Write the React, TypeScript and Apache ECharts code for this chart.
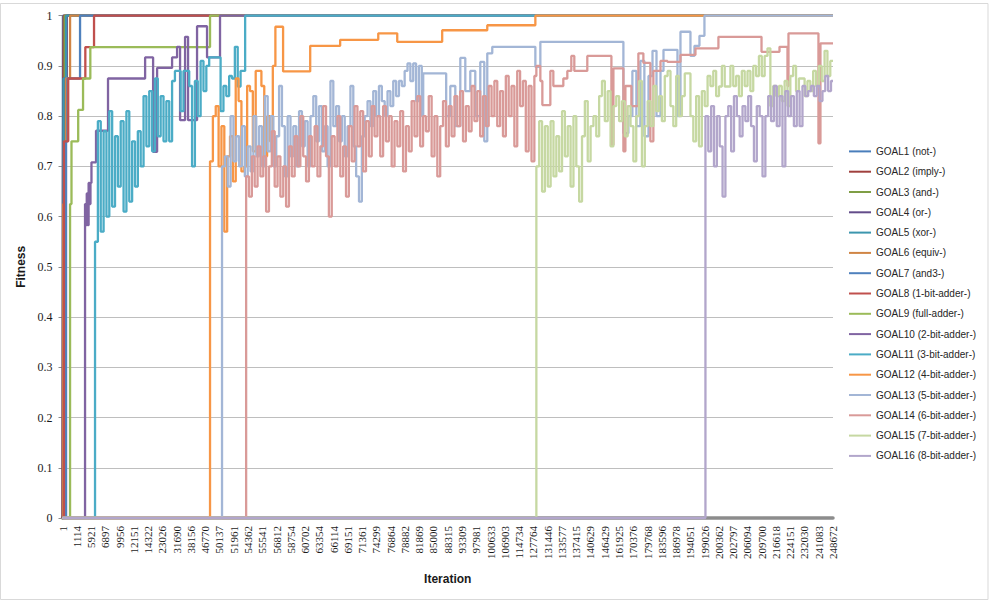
import React, { useEffect, useRef } from "react";
import * as echarts from "echarts";

// Iteration labels shown under every 10th sample position on the x axis
const xTickLabels = [
  "1", "1114", "5921", "6897", "9956", "12151", "14322", "23026", "31690", "38156",
  "46770", "50137", "51961", "54362", "55541", "56812", "58754", "60702", "63354", "66114",
  "69151", "71361", "74299", "76864", "78882", "81869", "85000", "88315", "93309", "97981",
  "100633", "106903", "114734", "127764", "131446", "133577", "137415", "140629", "146429", "161925",
  "170376", "179768", "183596", "186978", "194051", "199026", "200362", "202797", "206094", "209700",
  "216618", "224151", "232030", "241083", "248672",
];

const goalNames = [
  "GOAL1 (not-)", "GOAL2 (imply-)", "GOAL3 (and-)", "GOAL4 (or-)", "GOAL5 (xor-)",
  "GOAL6 (equiv-)", "GOAL7 (and3-)", "GOAL8 (1-bit-adder-)", "GOAL9 (full-adder-)",
  "GOAL10 (2-bit-adder-)", "GOAL11 (3-bit-adder-)", "GOAL12 (4-bit-adder-)",
  "GOAL13 (5-bit-adder-)", "GOAL14 (6-bit-adder-)", "GOAL15 (7-bit-adder-)", "GOAL16 (8-bit-adder-)",
];

const goalColors = [
  "#4A7EBB", "#A0403D", "#7F9E45", "#634C8A", "#3C96AE", "#D08545",
  "#4F81BD", "#C0504D", "#9BBB59", "#8064A2", "#4BACC6", "#F79646",
  "#A3B6D6", "#D99A98", "#C6D8A2", "#B2A6CB",
];

// Step series: [sample position, fitness] at each change of value
const goal1 = [[0, 0], [0.3, 1], [540, 1]];
const goal2 = [[0, 0], [0.4, 0.75], [0.8, 1], [540, 1]];
const goal3 = [[0, 0], [0.5, 0.75], [1.5, 1], [540, 1]];
const goal4 = [[0, 0], [0.6, 0.875], [3, 1], [540, 1]];
const goal5 = [[0, 0], [0.7, 0.875], [2.5, 1], [540, 1]];
const goal6 = [[0, 0], [0.5, 0.625], [1.2, 0.75], [2.5, 0.875], [5.3, 1], [540, 1]];
const goal7 = [[0, 0], [2.5, 0.75], [3.5, 0.875], [12.3, 1], [540, 1]];
const goal8 = [[0, 0], [1, 0.75], [4, 0.875], [16, 0.9375], [22.1, 1], [540, 1]];
const goal9 = [[0, 0], [5.3, 0.625], [6.3, 0.75], [11, 0.8125], [14.4, 0.875], [19.5, 0.9375], [103.4, 1], [540, 1]];
const goal10 = [
  [0, 0], [15.8, 0.625], [16.4, 0.583], [17, 0.646], [17.6, 0.583], [18.3, 0.667], [19, 0.625],
  [19.6, 0.667], [20.3, 0.708], [23.5, 0.771], [31.9, 0.875], [57.9, 0.917], [63.5, 0.729],
  [66.3, 0.896], [76.8, 0.917], [80.3, 0.938], [82.4, 0.792], [85.9, 0.958], [88, 0.792],
  [94.3, 0.979], [101.3, 0.917], [110.4, 1], [540, 1],
];

// Noisy series: fitness sampled every 2 positions from a start position, then step tail
const goal11Start = 22.8;
const goal11Noise = [
  0.55, 0.79, 0.57, 0.77, 0.6, 0.81, 0.62, 0.76, 0.66, 0.79, 0.61, 0.81, 0.63, 0.75, 0.66, 0.77,
  0.7, 0.84, 0.74, 0.85, 0.73, 0.875, 0.76, 0.84, 0.75, 0.83, 0.75, 0.87, 0.89, 0.89, 0.81, 0.89,
  0.89, 0.86, 0.7, 0.87, 0.8, 0.91, 0.85, 0.9, 0.917, 0.917, 0.917, 0.917, 0.81, 0.86, 0.84, 0.88,
  0.875, 0.938, 0.859, 0.89, 0.89,
];
const goal11Tail = [[128, 1], [540, 1]];

const goal12Start = 103.4;
const goal12Noise = [
  0.71, 0.8, 0.82, 0.7, 0.78, 0.57, 0.72, 0.76, 0.67, 0.875, 0.83, 0.69, 0.7, 0.86, 0.85, 0.73,
  0.89, 0.89, 0.86, 0.72, 0.8, 0.75, 0.9,
];
const goal12Tail = [
  [149.2, 0.978], [154.6, 0.889], [173.6, 0.94], [194.6, 0.952], [221.3, 0.965], [234.6, 0.948],
  [266.1, 0.971], [297.7, 0.981], [331.4, 1], [540, 1],
];

const goal13Start = 111.8;
const goal13Noise = [
  0.7, 0.72, 0.66, 0.8, 0.71, 0.76, 0.7, 0.78, 0.68, 0.74, 0.69, 0.8, 0.72, 0.78, 0.7, 0.84,
  0.73, 0.8, 0.7, 0.76, 0.86, 0.78, 0.68, 0.8, 0.72, 0.78, 0.7, 0.81, 0.74, 0.79, 0.7, 0.8,
  0.84, 0.75, 0.82, 0.73, 0.78, 0.7, 0.87, 0.78, 0.82, 0.75, 0.8, 0.72, 0.78, 0.86, 0.74, 0.68,
  0.63, 0.76, 0.8, 0.83, 0.78, 0.85, 0.8, 0.86, 0.83, 0.8, 0.85, 0.82, 0.87, 0.84, 0.87, 0.86,
  0.89, 0.905, 0.87, 0.905, 0.83, 0.9, 0.8,
];
const goal13Tail = [
  [252.8, 0.885], [268.9, 0.8], [271.8, 0.86], [275.3, 0.78], [278.8, 0.916], [282.3, 0.85],
  [285.8, 0.89], [289.3, 0.8], [292.8, 0.908], [295.6, 0.75], [297.7, 0.925], [301.2, 0.938],
  [331.4, 0.898], [334.9, 0.948], [393.1, 0.766], [396.6, 0.8], [399.4, 0.89], [402.2, 0.78],
  [405, 0.91], [407.8, 0.76], [410.7, 0.88], [413.5, 0.93], [416.3, 0.8], [419.1, 0.89],
  [421.2, 0.932], [431, 0.8], [433.1, 0.968], [440.1, 0.92], [442.9, 0.94], [446.4, 0.96],
  [449.9, 1], [540, 1],
];

const goal14Start = 128.7;
const goal14Noise = [
  0.68, 0.64, 0.72, 0.66, 0.74, 0.68, 0.72, 0.61, 0.7, 0.77, 0.66, 0.72, 0.64, 0.7, 0.62, 0.74,
  0.68, 0.76, 0.7, 0.8, 0.72, 0.67, 0.76, 0.7, 0.78, 0.68, 0.74, 0.82, 0.72, 0.6, 0.76, 0.7,
  0.8, 0.68, 0.74, 0.64, 0.78, 0.71, 0.82, 0.74, 0.81, 0.69, 0.79, 0.72, 0.82, 0.76, 0.8, 0.72,
  0.82, 0.75, 0.8, 0.7, 0.79, 0.74, 0.81, 0.69, 0.78, 0.73, 0.83, 0.76, 0.84, 0.74, 0.8, 0.77,
  0.84, 0.72, 0.8, 0.68, 0.78, 0.83, 0.74, 0.82, 0.76, 0.84, 0.78, 0.85, 0.75, 0.82, 0.77, 0.86,
  0.79, 0.85, 0.76, 0.84, 0.78, 0.86, 0.8, 0.87, 0.78, 0.85, 0.76, 0.88, 0.8, 0.86, 0.74, 0.89,
  0.82, 0.87, 0.73, 0.86, 0.71, 0.88,
];
const goal14Tail = [
  [332.1, 0.9], [334.9, 0.87], [336.3, 0.822], [341.9, 0.89], [344, 0.86], [351, 0.875],
  [353.8, 0.89], [356.6, 0.92], [358.7, 0.89], [367.8, 0.92], [384.7, 0.743], [386.1, 0.895],
  [393.1, 0.73], [394.5, 0.86], [398.7, 0.82], [403.6, 0.925], [407.1, 0.906], [412, 0.75],
  [414.1, 0.89], [419.1, 0.91], [424, 0.908], [433.1, 0.922], [443.6, 0.935], [459.7, 0.958],
  [489.9, 0.928], [502.5, 0.938], [508.1, 0.86], [508.8, 0.965], [529.8, 0.746], [531.2, 0.945],
  [540, 0.945],
];

const goal15Start = 332.1;
const goal15Noise = [
  0.7, 0.79, 0.65, 0.78, 0.66, 0.79, 0.68, 0.76, 0.69, 0.81, 0.72, 0.78, 0.66, 0.8, 0.7, 0.63,
  0.76, 0.83, 0.71, 0.78, 0.8, 0.76, 0.84, 0.87, 0.79, 0.85, 0.74, 0.82, 0.84, 0.79, 0.83, 0.76,
  0.82, 0.78, 0.71, 0.8, 0.87, 0.7, 0.78, 0.83, 0.78, 0.86, 0.81, 0.84, 0.79, 0.88, 0.89, 0.82,
  0.78, 0.88, 0.8, 0.84, 0.885, 0.885, 0.8, 0.75, 0.84, 0.74, 0.85, 0.82, 0.88, 0.86, 0.89, 0.84,
  0.859, 0.9, 0.859, 0.859, 0.9, 0.86, 0.88, 0.84, 0.89, 0.86, 0.89, 0.85, 0.9, 0.88, 0.92, 0.88,
  0.92, 0.935, 0.82, 0.86, 0.84, 0.86, 0.83, 0.87, 0.82, 0.88, 0.9, 0.85, 0.875, 0.875, 0.84, 0.87,
  0.85, 0.89, 0.86, 0.9, 0.87, 0.93, 0.88, 0.91,
];
const goal15Tail = [[540, 0.91]];

const goal16Start = 450.6;
const goal16Noise = [
  0.8, 0.73, 0.82, 0.7, 0.8, 0.74, 0.64, 0.8, 0.82, 0.73, 0.84, 0.8, 0.76, 0.82, 0.79, 0.84,
  0.78, 0.71, 0.82, 0.8, 0.68, 0.8, 0.84, 0.79, 0.86, 0.78, 0.84, 0.7, 0.85, 0.8, 0.84, 0.78,
  0.85, 0.78, 0.86, 0.84, 0.85, 0.86, 0.84, 0.86, 0.83, 0.85, 0.88, 0.85, 0.87,
];
const goal16Tail = [[540, 0.87]];

const SAMPLE_STEP = 2;

function noisySeries(start: number, values: number[], tail: number[][]) {
  const pts: number[][] = [[0, 0]];
  values.forEach((v, k) => pts.push([start + k * SAMPLE_STEP, v]));
  return pts.concat(tail);
}

const goalData = [
  goal1, goal2, goal3, goal4, goal5, goal6, goal7, goal8, goal9, goal10,
  noisySeries(goal11Start, goal11Noise, goal11Tail),
  noisySeries(goal12Start, goal12Noise, goal12Tail),
  noisySeries(goal13Start, goal13Noise, goal13Tail),
  noisySeries(goal14Start, goal14Noise, goal14Tail),
  noisySeries(goal15Start, goal15Noise, goal15Tail),
  noisySeries(goal16Start, goal16Noise, goal16Tail),
];

export default function App() {
  const ref = useRef<HTMLDivElement>(null);

  useEffect(() => {
    if (!ref.current) return;
    const chart = echarts.init(ref.current, null, { renderer: "svg" });
    const serif = "'Liberation Serif', 'DejaVu Serif', serif";
    const sans = "'Liberation Sans', Arial, sans-serif";

    chart.setOption({
      animation: false,
      backgroundColor: "#ffffff",
      color: goalColors,
      graphic: [
        {
          type: "rect",
          silent: true,
          z: -10,
          shape: { x: 0.5, y: 3.5, width: 987.5, height: 596 },
          style: { fill: "none", stroke: "#D9D9D9", lineWidth: 1 },
        },
      ],
      grid: { left: 62.5, right: 157, top: 15.7, bottom: 83, containLabel: false },
      legend: {
        orient: "vertical",
        left: 844,
        top: 141.4,
        itemWidth: 22,
        itemHeight: 14,
        itemGap: 10.3,
        icon: "path://M0,6 L22,6 L22,8 L0,8 Z",
        textStyle: { fontFamily: sans, fontSize: 10, color: "#262626" },
        data: goalNames,
      },
      xAxis: {
        type: "value",
        min: 0,
        max: 540,
        interval: 10,
        z: 3,
        name: "Iteration",
        nameLocation: "middle",
        nameGap: 55,
        nameTextStyle: { fontFamily: sans, fontSize: 12, fontWeight: "bold", color: "#1a1a1a" },
        axisLine: { show: true, onZero: false, lineStyle: { color: "#8C8C8C", width: 3.5 } },
        axisTick: { show: false },
        splitLine: { show: false },
        axisLabel: {
          rotate: 90,
          margin: 8,
          fontFamily: serif,
          fontSize: 11,
          color: "#1a1a1a",
          showMinLabel: true,
          showMaxLabel: true,
          formatter: (v: number) => xTickLabels[Math.round(v / 10)] ?? "",
        },
      },
      yAxis: {
        type: "value",
        min: 0,
        max: 1,
        interval: 0.1,
        name: "Fitness",
        nameLocation: "middle",
        nameGap: 34,
        nameTextStyle: { fontFamily: sans, fontSize: 12, fontWeight: "bold", color: "#1a1a1a" },
        axisLine: { show: true, lineStyle: { color: "#8C8C8C", width: 1 } },
        axisTick: { show: true, length: 4, lineStyle: { color: "#8C8C8C" } },
        splitLine: { show: true, lineStyle: { color: "#BEBEBE", width: 1 } },
        axisLabel: { fontFamily: serif, fontSize: 12, color: "#1a1a1a", margin: 10 },
      },
      series: goalNames.map((name, i) => ({
        name,
        type: "line",
        step: "end",
        symbol: "none",
        clip: false,
        data: goalData[i],
        lineStyle: { width: 2.3, color: goalColors[i] },
        itemStyle: { color: goalColors[i] },
        emphasis: { disabled: true },
      })),
    });

    return () => chart.dispose();
  }, []);

  return (
    <div
      ref={ref}
      style={{ position: "absolute", left: 0, top: 0, width: 990, height: 601 }}
    />
  );
}
